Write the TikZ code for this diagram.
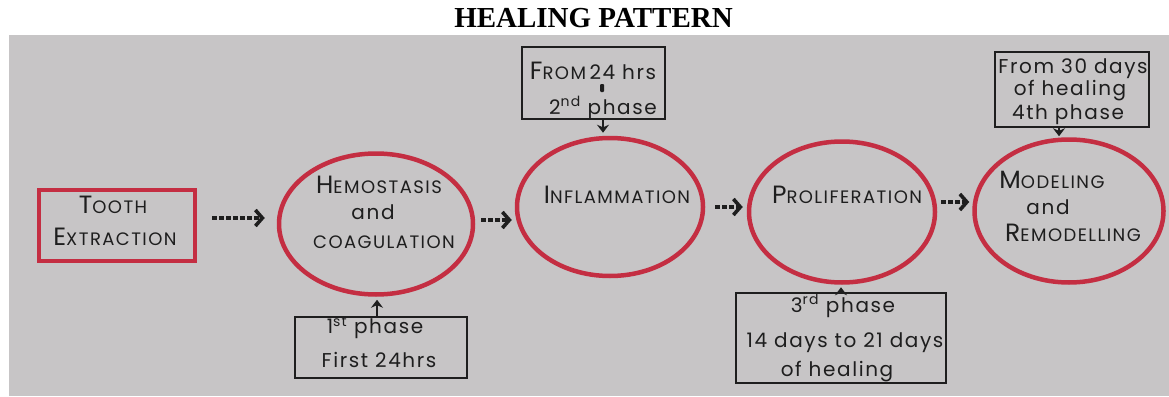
\documentclass[tikz,border=0pt]{standalone}
\usepackage{fontspec}
\setmainfont{Liberation Serif}
\newfontfamily\hand[LetterSpace=8]{Poppins}
\usetikzlibrary{shapes.geometric,arrows.meta,calc}
\definecolor{paper}{RGB}{199,197,198}
\definecolor{ink}{RGB}{30,30,30}
\definecolor{redink}{RGB}{196,46,66}
\newcommand\capA[2]{{\fontsize{25}{25}\selectfont #1}{\fontsize{18}{18}\selectfont #2}}
\newcommand\lw[1]{{\fontsize{20}{20}\selectfont #1}}
\begin{document}
\begin{tikzpicture}[x=1pt,y=-1pt,
  redring/.style={ellipse, draw=redink, line width=4.5pt, inner sep=0pt},
  redbox/.style={rectangle, draw=redink, line width=4.5pt, inner sep=0pt},
  notebox/.style={rectangle, draw=ink, line width=1.4pt, inner sep=0pt},
  hw/.style={font=\hand, text=ink, inner sep=0pt, anchor=center},
  dotarr/.style={draw=ink, line width=3.2pt, dash pattern=on 4.5pt off 2.5pt,
    -{Straight Barb[length=7pt,width=16pt,line width=3.6pt]}},
  vertarr/.style={draw=ink, line width=2.8pt, -{Stealth[length=8pt,width=12pt]}}]
\useasboundingbox (0,0) rectangle (1169,396);
\fill[white] (0,0) rectangle (1169,396);
\fill[paper] (9,35) rectangle (1169,396);
\node[font=\bfseries\fontsize{29}{29}\selectfont, anchor=base] (title) at (593.5,28) {HEALING PATTERN};

% main nodes
\node[redbox, minimum width=156pt, minimum height=71pt] (tooth) at (117,225.5) {};
\node[redring, minimum width=194pt, minimum height=141pt] (c1) at (376,224) {};
\node[redring, minimum width=186pt, minimum height=138pt] (c2) at (610,207) {};
\node[redring, minimum width=186pt, minimum height=141pt] (c3) at (842,212) {};
\node[redring, minimum width=189pt, minimum height=143pt] (c4) at (1069,211) {};

% note boxes
\node[notebox, minimum width=172pt, minimum height=61pt] (b1) at (381,347.5) {};
\node[notebox, minimum width=143pt, minimum height=72pt] (b2) at (593.5,83) {};
\node[notebox, minimum width=210pt, minimum height=90pt] (b3) at (841,338) {};
\node[notebox, minimum width=154pt, minimum height=75pt] (b4) at (1072,89.5) {};

% texts
\node[hw] (t1a) at (113,205) {\capA{T}{OOTH}};
\node[hw] (t1b) at (115,237) {\capA{E}{XTRACTION}};
\node[hw] (h1) at (379,185) {\capA{H}{EMOSTASIS}};
\node[hw] (h2) at (373,212) {\lw{and}};
\node[hw] (h3) at (384,242) {\capA{}{COAGULATION}};
\node[hw] (i1) at (617,195) {\capA{I}{NFLAMMATION}};
\node[hw] (p1) at (847,195) {\capA{P}{ROLIFERATION}};
\node[hw] (m1) at (1052,180) {\capA{M}{ODELING}};
\node[hw] (m2) at (1048,207) {\lw{and}};
\node[hw] (m3) at (1073,233) {\capA{R}{EMODELLING}};

\node[hw] (n1a) at (375,328) {\lw{1\textsuperscript{st} phase}};
\node[hw] (n1b) at (379,360) {\lw{First 24hrs}};
\node[hw] (n2a) at (593,71) {\capA{F}{ROM} \lw{24 hrs}};
\node[fill=ink, minimum width=4pt, minimum height=8pt, inner sep=0pt, rounded corners=1pt] (bar) at (602,88) {};
\node[hw] (n2b) at (603,108) {\lw{2\textsuperscript{nd} phase}};
\node[hw] (n3a) at (843,306) {\lw{3\textsuperscript{rd} phase}};
\node[hw] (n3b) at (845,343) {\lw{14 days to 21 days}};
\node[hw] (n3c) at (837,372) {\lw{of healing}};
\node[hw] (n4a) at (1073,69) {\lw{From 30 days}};
\node[hw] (n4b) at (1070,91) {\lw{of healing}};
\node[hw] (n4c) at (1068,115) {\lw{4th phase}};

% connectors
\draw[dotarr] ($(tooth.east)+(15,-7.5)$) -- ($(c1.west)+(-12,-6)$);
\draw[dotarr] ($(c1.east)+(6,-4)$) -- ($(c2.west)+(-3,13)$);
\draw[dotarr] ($(c2.east)+(10,0)$) -- ($(c3.west)+(-4,-5)$);
\draw[dotarr] ($(c3.east)+(4,-10)$) -- ($(c4.west)+(-3,-9)$);

\draw[vertarr] ($(b1.north)+(-4,0)$) -- ($(c1.south)+(1,3)$);
\draw[vertarr] ($(b2.south)+(9.5,0)$) -- ($(c2.north)+(-7,-3)$);
\draw[vertarr] (b3.north) -- ($(c3.south)+(-1,2.5)$);
\draw[vertarr] ($(b4.south)+(-13,0)$) -- ($(c4.north)+(-10,-1)$);
\end{tikzpicture}
\end{document}
